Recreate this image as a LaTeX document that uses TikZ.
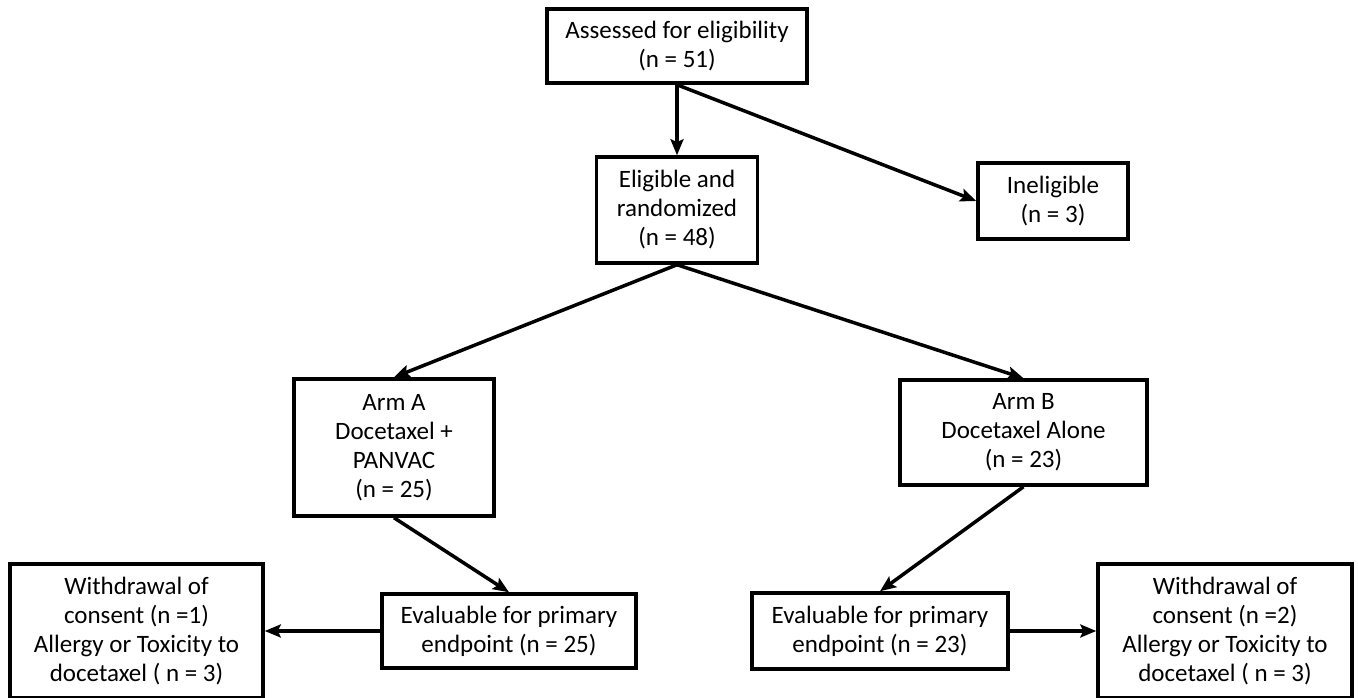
\documentclass[tikz,border=0pt]{standalone}
\usepackage{fontspec}
\setmainfont{Carlito}
\usetikzlibrary{arrows.meta}

\begin{document}
\begin{tikzpicture}[x = 1pt, y = -1pt, > = {Stealth[length=16pt, width=13pt, inset=3pt]},
    box/.style = {draw, line width = 3.5pt, align = center, inner sep = 2pt,
        font = \fontsize{25}{29}\selectfont},
    link/.style = {->, line width = 3.5pt}]
  \useasboundingbox (0,0) rectangle (1358,698);
  % top of the chart
  \node[box, minimum width = 260pt, minimum height = 74pt] (assessed) at (677,46)
      {Assessed for eligibility\\(n = 51)};
  \node[box, minimum width = 161pt, minimum height = 106pt] (eligible) at (677,210)
      {Eligible and\\randomized\\(n = 48)};
  \node[box, minimum width = 150pt, minimum height = 76pt] (ineligible) at (1053,201)
      {Ineligible\\(n = 3)};
  % the two arms
  \node[box, minimum width = 200pt, minimum height = 137pt] (armA) at (394,447.5)
      {Arm A\\Docetaxel +\\PANVAC\\(n = 25)};
  \node[box, minimum width = 247pt, minimum height = 105pt] (armB) at (1023.5,432.5)
      {Arm B\\Docetaxel Alone\\(n = 23)};
  \node[box, minimum width = 254pt, minimum height = 74pt] (evalA) at (509,631)
      {Evaluable for primary\\endpoint (n = 25)};
  \node[box, minimum width = 256pt, minimum height = 76pt] (evalB) at (880,631)
      {Evaluable for primary\\endpoint (n = 23)};
  \node[box, minimum width = 253pt, minimum height = 134pt] (withdrawA) at (136.5,631)
      {Withdrawal of\\consent (n =1)\\Allergy or Toxicity to\\docetaxel ( n = 3)};
  \node[box, minimum width = 254pt, minimum height = 134pt] (withdrawB) at (1225,631)
      {Withdrawal of\\consent (n =2)\\Allergy or Toxicity to\\docetaxel ( n = 3)};

  \draw[link] (assessed.south) -- (eligible.north);
  \draw[link] (assessed.south) -- (ineligible.west);
  \draw[link] (eligible.south) -- (armA.north);
  \draw[link] (eligible.south) -- (armB.north);
  \draw[link] (armA.south) -- (evalA.north);
  \draw[link] (armB.south) -- (evalB.north);
  \draw[link] (evalA.west) -- (withdrawA.east);
  \draw[link] (evalB.east) -- (withdrawB.west);
\end{tikzpicture}
\end{document}
